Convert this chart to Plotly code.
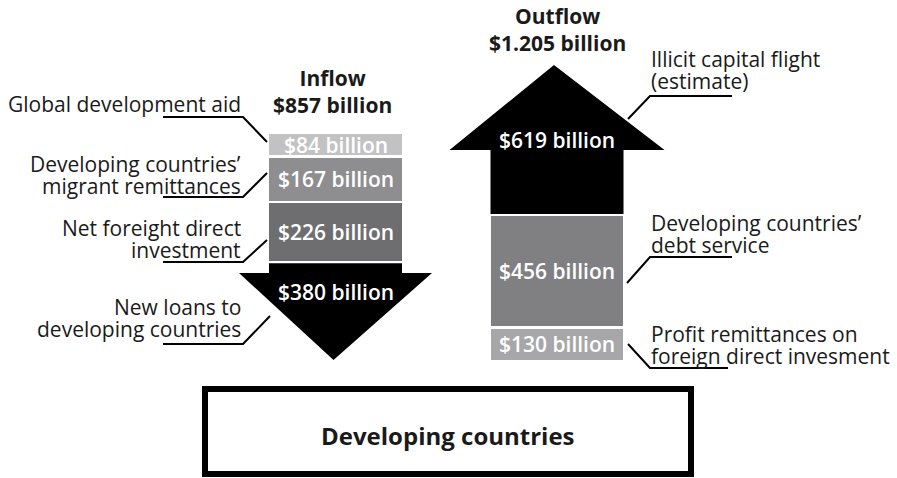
import plotly.graph_objects as go

# ---- data (billions of US$) ----
inflow_names = [
    "Global development aid",
    "Developing countries’<br>migrant remittances",
    "Net foreight direct<br>investment",
    "New loans to<br>developing countries",
]
inflow_values = [84, 167, 226, 380]
inflow_colors = ["#c2c2c3", "#8e8e90", "#6e6e70", "#000000"]

outflow_names = [
    "Illicit capital flight<br>(estimate)",
    "Developing countries’<br>debt service",
    "Profit remittances on<br>foreign direct invesment",
]
outflow_values = [619, 456, 130]
outflow_colors = ["#000000", "#808083", "#a7a7a9"]

inflow_title = "Inflow<br>$857 billion"
outflow_title = "Outflow<br>$1.205 billion"
box_title = "Developing countries"

# ---- layout constants ----
W, H = 897, 478
BASE_PX = 360          # pixel row where both flows end
GAP = 10               # white separator between segments (billions)
IN_X, OUT_X = 335.5, 557
BAR_W = 133
FONT = "Open Sans"
TXT = "#1a1a1a"
LABEL_SIZE = 21
LINE_STEP = 22         # px between wrapped label lines

in_total = sum(inflow_values) + GAP * (len(inflow_values) - 1)
out_total = sum(outflow_values) + GAP * (len(outflow_values) - 1)
k_in = 226 / in_total      # px per billion
k_out = 295 / out_total


def axis_range(k):
    return [-(H - BASE_PX) / k, BASE_PX / k]


def py(p):
    """pixel row -> paper coordinate"""
    return 1 - p / H


def text(x, y, s, xref="x", yref="paper", **kw):
    fig.add_annotation(x=x, y=y, xref=xref, yref=yref, text=s, showarrow=False,
                       yanchor="middle", **kw)


fig = go.Figure()

# ---- inflow: stacked from the top down, last segment is the arrow ----
top = in_total
in_segments = []
for v, c in zip(inflow_values, inflow_colors):
    start = top - v
    in_segments.append((start, top, v, c))
    top = start - GAP

value_font = dict(family=FONT, size=LABEL_SIZE, color="white", weight=600)

for i, (lo, hi, v, c) in enumerate(in_segments):
    if i < len(in_segments) - 1:
        fig.add_trace(go.Bar(x=[IN_X], y=[v], base=[lo], width=BAR_W,
                             marker=dict(color=c, line=dict(width=0)),
                             yaxis="y", hoverinfo="skip", showlegend=False))
        ly = (lo + hi) / 2
    else:
        hb = 87 / k_in
        L, R, o = IN_X - BAR_W / 2, IN_X + BAR_W / 2, 30
        xs = [L, R, R, R + o, IN_X - 2, L - o, L, L]
        ys = [hi, hi, hb, hb, lo, hb, hb, hi]
        fig.add_trace(go.Scatter(x=xs, y=ys, fill="toself", fillcolor=c,
                                 mode="lines", line=dict(width=0, color=c),
                                 yaxis="y", hoverinfo="skip", showlegend=False))
        ly = lo + 0.7 * v
    text(IN_X, ly, f"${v} billion", yref="y", xanchor="center", font=value_font)

# ---- outflow: stacked from the bottom up, first segment is the arrow ----
bottom = 0
out_segments = []
for v, c in zip(reversed(outflow_values), reversed(outflow_colors)):
    out_segments.append((bottom, bottom + v, v, c))
    bottom += v + GAP
out_segments = out_segments[::-1]

for i, (lo, hi, v, c) in enumerate(out_segments):
    if i > 0:
        fig.add_trace(go.Bar(x=[OUT_X], y=[v], base=[lo], width=BAR_W - 1,
                             marker=dict(color=c, line=dict(width=0)),
                             yaxis="y2", hoverinfo="skip", showlegend=False))
    else:
        hb = hi - 85 / k_out
        L, R, o = OUT_X - BAR_W / 2, OUT_X + BAR_W / 2, 41
        xs = [L, R, R, R + o, OUT_X - 3, L - o, L, L]
        ys = [lo, lo, hb, hb, hi, hb, hb, lo]
        fig.add_trace(go.Scatter(x=xs, y=ys, fill="toself", fillcolor=c,
                                 mode="lines", line=dict(width=0, color=c),
                                 yaxis="y2", hoverinfo="skip", showlegend=False))
    text(OUT_X, (lo + hi) / 2, f"${v} billion", yref="y2", xanchor="center", font=value_font)

# ---- titles ----
title_font = dict(family=FONT, size=LABEL_SIZE, color=TXT)
text(IN_X - 3, py(92), f"<b>{inflow_title}</b>", xanchor="center", font=title_font)
text(OUT_X, py(29), f"<b>{outflow_title}</b>", xanchor="center", font=title_font)

# ---- category labels with leader lines ----
LINE = dict(color="#000000", width=2)
label_font = dict(family=FONT, size=LABEL_SIZE, color=TXT)


def label_block(name, x, first_row, anchor):
    for j, part in enumerate(name.split("<br>")):
        text(x, py(first_row + j * LINE_STEP), part, xanchor=anchor, font=label_font)


def leader(pts):
    path = "M " + " L ".join(f"{x} {py(y)}" for x, y in pts)
    fig.add_shape(type="path", path=path, xref="x", yref="paper", line=LINE)


in_first_rows = [104, 164, 228, 307]
in_leaders = [((163, 117), (243, 117), (267, 142)),
              ((163, 197), (243, 197), (267, 173)),
              ((163, 262), (243, 262), (267, 240)),
              ((163, 344), (243, 344), (270, 316))]
for name, row, pts in zip(inflow_names, in_first_rows, in_leaders):
    label_block(name, 243, row, "right")
    leader(pts)

out_first_rows = [59, 223, 334]
out_leaders = [((732, 96), (650, 96), (628, 119)),
               ((732, 257), (650, 257), (627, 283)),
               ((728, 368), (650, 368), (628, 344))]
for name, row, pts in zip(outflow_names, out_first_rows, out_leaders):
    label_block(name, 649, row, "left")
    leader(pts)

# ---- destination box ----
fig.add_shape(type="rect", x0=205, x1=691, y0=py(474), y1=py(389), xref="x", yref="paper",
              line=dict(color="#000000", width=6), fillcolor="white")
text(448, py(435), f"<b>{box_title}</b>", xanchor="center",
     font=dict(family=FONT, size=24, color=TXT))

fig.update_layout(
    width=W, height=H, margin=dict(l=0, r=0, t=0, b=0),
    paper_bgcolor="white", plot_bgcolor="white",
    barmode="overlay", bargap=0,
    xaxis=dict(range=[0, W], visible=False, fixedrange=True),
    yaxis=dict(range=axis_range(k_in), visible=False, fixedrange=True),
    yaxis2=dict(range=axis_range(k_out), visible=False, overlaying="y", fixedrange=True),
)

fig.write_html("out.html")
